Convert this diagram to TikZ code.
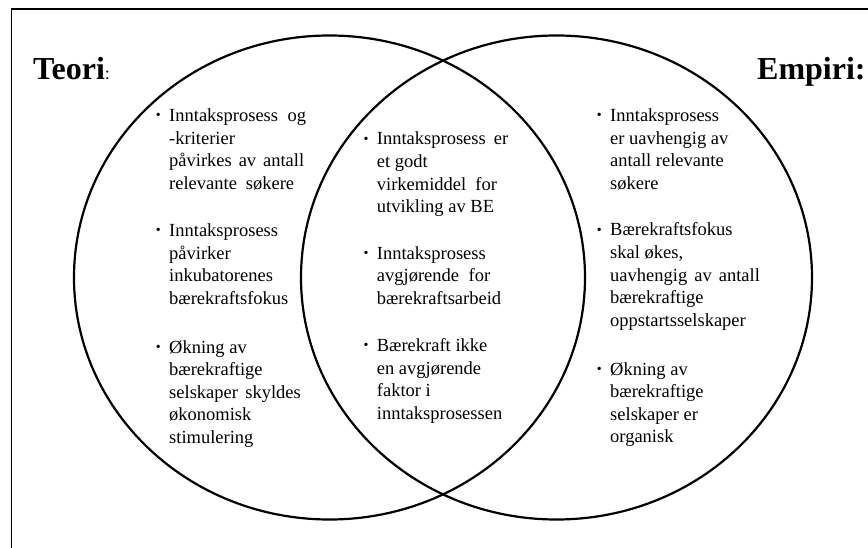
\documentclass[tikz,border=0pt]{standalone}
\usepackage{fontspec}
\setmainfont{Liberation Serif}
\usetikzlibrary{shapes.geometric}
\newcommand{\jl}[2]{\makebox[#1pt][s]{#2}}
\newcommand{\bul}{\leavevmode\llap{{\fontsize{14}{14}\selectfont\raisebox{1.8pt}{\textbullet}}\hspace{8.5pt}}}
\newcommand{\itemtext}[1]{\parbox[t]{220pt}{\raggedright #1}}
\begin{document}
\begin{tikzpicture}[x=1pt,y=-1pt,
  frame/.style={line width=1.8pt, line cap=rect},
  venn/.style={ellipse, draw, line width=2.2pt, minimum width=511pt, minimum height=484pt, inner sep=0pt},
  title/.style={inner sep=0pt, anchor=base west, font=\bfseries\fontsize{32}{36}\selectfont},
  itembox/.style={inner sep=0pt, anchor=base west, font=\fontsize{18.5}{22.6}\selectfont}]
\useasboundingbox (0,0) rectangle (868,548);
\draw[frame] (868,9) -| (11.5,548);
\node[venn] (teoriC) at (329.5,277.5) {};
\node[venn] (empiriC) at (556.5,277.5) {};
\node[title] (teori) at (33,80) {Teori{\mdseries\fontsize{18}{20}\selectfont:}};
\node[title] (empiri) at (757,80) {Empiri:};
% left column
\node[itembox] (l1) at (169,121.5) {\itemtext{\bul\jl{137}{Inntaksprosess og}\\ -kriterier\\ \jl{135}{påvirkes av antall}\\ \jl{125}{relevante søkere}}};
\node[itembox] (l2) at (169,236.7) {\itemtext{\bul Inntaksprosess\\ påvirker\\ inkubatorenes\\ bærekraftsfokus}};
\node[itembox] (l3) at (169,353) {\itemtext{\bul Økning av\\ bærekraftige\\ \jl{131.7}{selskaper skyldes}\\ økonomisk\\ stimulering}};
% middle column
\node[itembox] (m1) at (376.7,145) {\itemtext{\bul\jl{131.3}{Inntaksprosess er}\\ et godt\\ \jl{120}{virkemiddel for}\\ utvikling av BE}};
\node[itembox] (m2) at (376.7,259.3) {\itemtext{\bul Inntaksprosess\\ \jl{113.3}{avgjørende for}\\ bærekraftsarbeid}};
\node[itembox] (m3) at (376.7,351.7) {\itemtext{\bul Bærekraft ikke\\ en avgjørende\\ faktor i\\ inntaksprosessen}};
% right column
\node[itembox] (r1) at (610,121.5) {\itemtext{\bul Inntaksprosess\\ er uavhengig av\\ antall relevante\\ søkere}};
\node[itembox] (r2) at (610,236) {\itemtext{\bul Bærekraftsfokus\\ skal økes,\\ \jl{149.7}{uavhengig av antall}\\ bærekraftige\\ oppstartsselskaper}};
\node[itembox] (r3) at (610,375) {\itemtext{\bul Økning av\\ bærekraftige\\ selskaper er\\ organisk}};
\end{tikzpicture}
\end{document}
